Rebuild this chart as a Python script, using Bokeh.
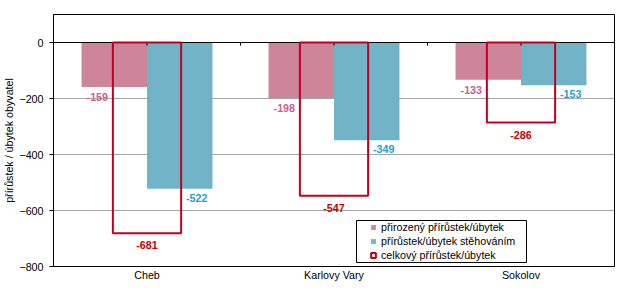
import numpy as np
from bokeh.plotting import figure
from bokeh.models import (Range1d, FixedTicker, ColumnDataSource, Legend, LegendItem,
                          BoxAnnotation)
from bokeh.transform import dodge
from bokeh.core.properties import value
from bokeh.embed import file_html
from bokeh.resources import INLINE

# ---- data ----
categories = ["Cheb", "Karlovy Vary", "Sokolov"]
natural = [-159, -198, -133]
migration = [-522, -349, -153]
total = [-681, -547, -286]
y_ticks = [-800, -600, -400, -200, 0]
series_names = ["přirozený přírůstek/úbytek",
                "přírůstek/úbytek stěhováním",
                "celkový přírůstek/úbytek"]
y_title = "přírůstek / úbytek obyvatel"

# ---- style ----
FONT = "Liberation Sans"
FS = "10.7px"
PINK = "#CC8599"
BLUE = "#71B3C7"
RED = "#C0001E"
PINK_TXT = "#C8608C"
BLUE_TXT = "#1F9FC6"
RED_TXT = "#C00000"

n = len(categories)
centers = np.arange(n) + 0.5

src = ColumnDataSource(dict(
    x=centers, natural=natural, migration=migration, total=total,
    nat_lbl=[str(v) for v in natural],
    mig_lbl=[str(v) for v in migration],
    tot_lbl=[str(v) for v in total],
))

p = figure(width=623, height=284, x_range=Range1d(0, n), y_range=Range1d(-800, 100),
           output_backend="svg", toolbar_location=None,
           min_border_left=46, min_border_right=9, min_border_top=14, min_border_bottom=18)
p.background_fill_color = "white"
p.border_fill_color = "white"
p.outline_line_color = "black"
p.outline_line_width = 1
p.outline_line_alpha = 1

# axes
p.yaxis.ticker = FixedTicker(ticks=y_ticks)
p.yaxis.major_label_text_font = FONT
p.yaxis.major_label_text_font_size = FS
p.yaxis.major_label_text_color = "black"
p.yaxis.major_tick_out = 4
p.yaxis.major_tick_in = 0
p.yaxis.minor_tick_line_color = None
p.yaxis.major_label_standoff = 6
p.yaxis.axis_line_color = "black"
p.yaxis.major_tick_line_color = "black"
p.yaxis.axis_label = y_title
p.yaxis.axis_label_text_font = FONT
p.yaxis.axis_label_text_font_size = FS
p.yaxis.axis_label_text_font_style = "normal"
p.yaxis.axis_label_text_color = "black"
p.yaxis.axis_label_standoff = 1

p.xaxis.ticker = FixedTicker(ticks=list(centers))
p.xaxis.major_label_overrides = {float(c): cat for c, cat in zip(centers, categories)}
p.xaxis.major_label_text_font = FONT
p.xaxis.major_label_text_font_size = FS
p.xaxis.major_label_text_color = "black"
p.xaxis.major_tick_out = 0
p.xaxis.major_tick_in = 0
p.xaxis.minor_tick_line_color = None
p.xaxis.major_label_standoff = 2
p.xaxis.axis_line_color = "black"

# grid
p.xgrid.visible = False
p.ygrid.ticker = FixedTicker(ticks=[t for t in y_ticks if t not in (0, y_ticks[0])])
p.ygrid.grid_line_color = "#A6A6A6"
p.ygrid.grid_line_width = 1

# bars
p.vbar(x=dodge("x", -0.175), width=0.35, top=0, bottom="natural", source=src,
       fill_color=PINK, line_color=None)
p.vbar(x=dodge("x", 0.175), width=0.35, top=0, bottom="migration", source=src,
       fill_color=BLUE, line_color=None)

# zero line with its tick marks
p.line(x=[0, n], y=[0, 0], line_color="black", line_width=1)
tick_x = sorted(list(centers) + list(np.arange(1, n)))
p.segment(x0=tick_x, y0=[0] * len(tick_x), x1=tick_x, y1=[-11] * len(tick_x),
          line_color="black", line_width=1)

# total boxes
p.vbar(x="x", width=0.365, top=0, bottom="total", source=src,
       fill_color=None, line_color=RED, line_width=2)

# labels
common = dict(source=src, text_align="center", text_baseline="middle",
              text_font=value(FONT), text_font_size=value(FS), text_font_style="bold")
p.text(x=dodge("x", -0.175), y="natural", text="nat_lbl", x_offset=-17, y_offset=10,
       text_color=PINK_TXT, **common)
p.text(x=dodge("x", 0.175), y="migration", text="mig_lbl", x_offset=17, y_offset=9,
       text_color=BLUE_TXT, **common)
p.text(x="x", y="total", text="tot_lbl", x_offset=0, y_offset=12,
       text_color=RED_TXT, **common)

# legend proxies
r1 = p.scatter(x=[np.nan], y=[np.nan], marker="square", fill_color=PINK, line_color=None)
r2 = p.scatter(x=[np.nan], y=[np.nan], marker="square", fill_color=BLUE, line_color=None)
r3 = p.scatter(x=[np.nan], y=[np.nan], marker="square", fill_color="white",
               line_color=RED, line_width=2)

legend = Legend(items=[LegendItem(label=series_names[0], renderers=[r1]),
                       LegendItem(label=series_names[1], renderers=[r2]),
                       LegendItem(label=series_names[2], renderers=[r3])],
                location=(314, 4), border_line_color=None, background_fill_alpha=0,
                padding=0, spacing=0, margin=0, glyph_height=14, glyph_width=12,
                label_height=14, label_standoff=2,
                label_text_font=FONT, label_text_font_size=FS, label_text_color="black")
p.add_layout(legend)

legend_box = BoxAnnotation(left=303, right=473, bottom=4, top=46,
                           left_units="screen", right_units="screen",
                           bottom_units="screen", top_units="screen",
                           fill_color=None, line_color="black", line_width=1, line_alpha=1)
p.add_layout(legend_box)

open("out.html", "w").write(file_html(p, INLINE))
